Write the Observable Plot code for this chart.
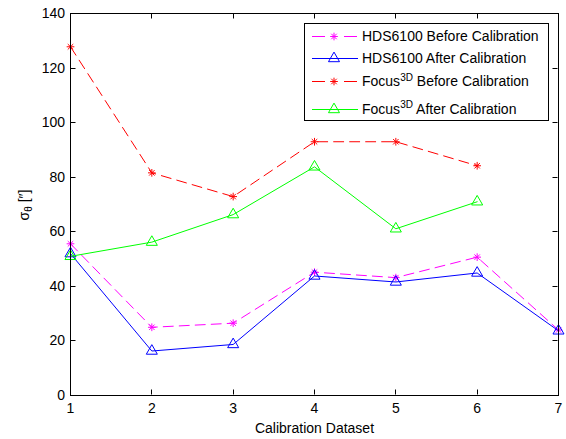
<!DOCTYPE html>
<html>
<head>
<meta charset="utf-8">
<script src="https://cdn.jsdelivr.net/npm/d3@7"></script>
<script src="https://cdn.jsdelivr.net/npm/@observablehq/plot@0.6"></script>
<style>
html, body { margin: 0; padding: 0; background: #fff; }
#wrap { position: relative; width: 566px; height: 439px; font-family: "Liberation Sans", Arial, sans-serif; }
#legend { position: absolute; left: 304px; top: 23px; width: 245px; height: 98px; border: 1px solid #000; background: #fff; box-sizing: border-box; }
.row { position: absolute; left: 0; height: 20px; display: flex; align-items: center; font-size: 14px; white-space: nowrap; color: #000; }
.row svg { margin-left: 7px; margin-right: 4px; flex: none; }
.sup { font-size: 10px; position: relative; top: -5.5px; }
</style>
</head>
<body>
<div id="wrap"><div id="legend"></div></div>
<script>
// ---- data ----
const datasets = [1, 2, 3, 4, 5, 6, 7];
const xTicks = [1, 2, 3, 4, 5, 6, 7];
const yTicks = [0, 20, 40, 60, 80, 100, 120, 140];
const hdsBefore = [55.6, 25.0, 26.5, 45.2, 43.2, 50.7, 24.0];
const hdsAfter = [52.0, 16.3, 18.7, 43.8, 41.6, 44.9, 23.7];
const focusBefore = [127.8, 81.6, 72.9, 93.0, 93.0, 84.2];
const focusAfter = [51.0, 56.2, 66.3, 83.8, 61.1, 71.0];
const seriesNames = ["HDS6100 Before Calibration", "HDS6100 After Calibration", "Focus3D Before Calibration", "Focus3D After Calibration"];
const xLabel = "Calibration Dataset";

const series = [
  {name: seriesNames[0], values: hdsBefore, color: "#ff00ff", dash: "10,6", marker: "star"},
  {name: seriesNames[1], values: hdsAfter, color: "#0000ff", dash: null, marker: "triangle"},
  {name: seriesNames[2], values: focusBefore, color: "#ff0000", dash: "10,6", marker: "star"},
  {name: seriesNames[3], values: focusAfter, color: "#00ff00", dash: null, marker: "triangle"}
];

const W = 566, H = 439, ML = 70, MR = 8, MT = 13, MB = 44;
const STAR_R = 2.6, TRI_R = 4.1, TICK_LEN = 5;
const xDomain = [1, 7], yDomain = [0, 140];

const marks = [];
for (const s of series) {
  const rows = s.values.map((v, i) => ({x: datasets[i], y: v}));
  marks.push(Plot.line(rows, {x: "x", y: "y", stroke: s.color, strokeWidth: 1, strokeDasharray: s.dash || undefined}));
  if (s.marker === "star") {
    marks.push(Plot.dot(rows, {x: "x", y: "y", symbol: "plus", r: STAR_R, stroke: s.color, strokeWidth: 1}));
    marks.push(Plot.dot(rows, {x: "x", y: "y", symbol: "times", r: STAR_R, stroke: s.color, strokeWidth: 1}));
  } else {
    marks.push(Plot.dot(rows, {x: "x", y: "y", symbol: "triangle", r: TRI_R, fill: "none", stroke: s.color, strokeWidth: 1}));
  }
}

const chart = Plot.plot({
  width: W,
  height: H,
  marginLeft: ML,
  marginRight: MR,
  marginTop: MT,
  marginBottom: MB,
  style: {fontFamily: "'Liberation Sans', Arial, sans-serif", fontSize: "14px", background: "#fff", color: "#000", overflow: "visible"},
  x: {domain: xDomain},
  y: {domain: yDomain},
  marks: [
    Plot.axisX(xTicks, {anchor: "bottom", tickSize: 0, tickPadding: 7.5, label: null}),
    Plot.axisY(yTicks, {anchor: "left", tickSize: 0, tickPadding: 5.5, label: null}),
    Plot.text([xLabel], {frameAnchor: "bottom", dy: 37, lineAnchor: "bottom", fontSize: 14}),
    ...marks,
    Plot.frame({stroke: "#000"})
  ]
});

document.getElementById("wrap").prepend(chart);

const svgNode = chart.tagName.toLowerCase() === "svg" ? chart : chart.querySelector("svg");
const svg = d3.select(svgNode);

// inward tick marks on all four sides, positioned through Plot's own scales
try {
  let px, py;
  if (typeof chart.scale === "function" && chart.scale("x") && chart.scale("x").apply) {
    const sx = chart.scale("x"), sy = chart.scale("y");
    px = v => sx.apply(v);
    py = v => sy.apply(v);
  } else {
    const lx = d3.scaleLinear(xDomain, [ML, W - MR]);
    const ly = d3.scaleLinear(yDomain, [H - MB, MT]);
    px = lx; py = ly;
  }
  const frameL = ML + 0.5, frameR = W - MR - 0.5, frameB = H - MB - 0.5, frameT = MT + 0.5;
  const tg = svg.append("g").attr("stroke", "#000").attr("stroke-width", 1);
  for (const v of xTicks) {
    const x = Math.round(px(v)) + 0.5;
    tg.append("line").attr("x1", x).attr("x2", x).attr("y1", frameB).attr("y2", frameB - TICK_LEN);
    tg.append("line").attr("x1", x).attr("x2", x).attr("y1", frameT).attr("y2", frameT + TICK_LEN);
  }
  for (const v of yTicks) {
    const y = Math.round(py(v)) + 0.5;
    tg.append("line").attr("x1", frameL).attr("x2", frameL + TICK_LEN).attr("y1", y).attr("y2", y);
    tg.append("line").attr("x1", frameR).attr("x2", frameR - TICK_LEN).attr("y1", y).attr("y2", y);
  }
} catch (e) { console.error(e); }

// y-axis label: sigma with subscript theta
const yl = svg.append("text")
  .attr("transform", "translate(28.5,205) rotate(-90)")
  .attr("text-anchor", "middle")
  .attr("font-size", 14)
  .attr("fill", "#000");
yl.append("tspan").text("σ");
yl.append("tspan").attr("font-size", 10).attr("dy", 3).text("θ");
yl.append("tspan").attr("dy", -3).text(" [″]");

// legend
const legend = d3.select("#legend");
const rowTops = [1.7, 24, 47.4, 74.7];
series.forEach((s, i) => {
  const row = legend.append("div").attr("class", "row").style("top", rowTops[i] + "px");
  const sv = row.append("svg").attr("width", 46).attr("height", 14);
  sv.append("line").attr("x1", 0).attr("x2", 46).attr("y1", 7.5).attr("y2", 7.5)
    .attr("stroke", s.color).attr("stroke-width", 1)
    .attr("stroke-dasharray", s.dash ? "13,19,13" : null);
  const g = sv.append("g").attr("transform", "translate(22,7.5)");
  if (s.marker === "star") {
    const size = Math.PI * STAR_R * STAR_R;
    g.append("path").attr("d", d3.symbol(d3.symbolPlus, size)()).attr("stroke", s.color).attr("fill", "none");
    g.append("path").attr("d", d3.symbol(d3.symbolTimes, size)()).attr("stroke", s.color).attr("fill", "none");
  } else {
    const size = Math.PI * TRI_R * TRI_R;
    g.append("path").attr("d", d3.symbol(d3.symbolTriangle, size)()).attr("stroke", s.color).attr("fill", "none");
  }
  const label = row.append("span");
  if (s.name.startsWith("Focus3D")) {
    label.append("span").text("Focus");
    label.append("span").attr("class", "sup").text("3D");
    label.append("span").text(s.name.slice("Focus3D".length));
  } else {
    label.text(s.name);
  }
});
</script>
</body>
</html>
